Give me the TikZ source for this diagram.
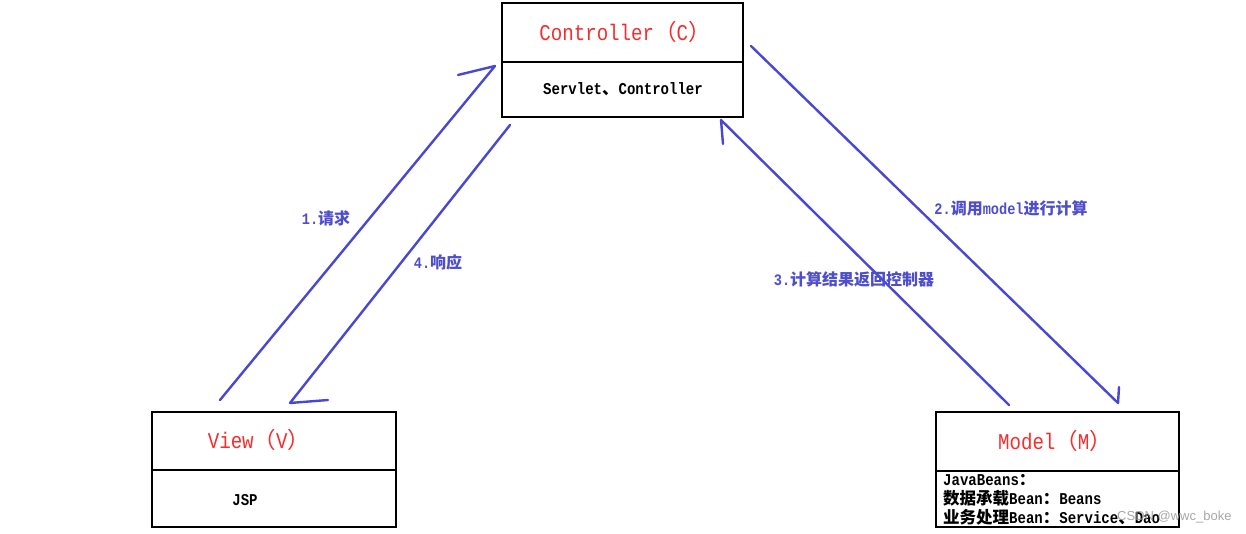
\documentclass[tikz,border=0pt]{standalone}
\usepackage{fontspec}
\setmainfont[FakeStretch=0.85]{Liberation Mono}
\newfontfamily\zhfont{Noto Sans CJK SC}
\newfontfamily\wmfont{Liberation Sans}
\newcommand\zh[1]{{\zhfont #1}}
\definecolor{titlered}{RGB}{245,45,45}
\definecolor{penblue}{RGB}{72,72,212}
\definecolor{labelblue}{RGB}{78,78,205}
\begin{document}
\begin{tikzpicture}[x=1pt,y=-1pt,
  boxpart/.style={draw=black,line width=2.6pt,minimum width=#1,inner sep=0pt},
  titletext/.style={text=titlered,font=\fontsize{22.5}{24}\selectfont,inner sep=0pt},
  bodytext/.style={text=black,font=\fontsize{16.5}{18}\selectfont\bfseries,inner sep=0pt},
  modeltext/.style={text=black,font=\fontsize{16.5}{18}\selectfont\bfseries,inner sep=0pt,anchor=west},
  labeltext/.style={text=labelblue,font=\fontsize{16}{18}\selectfont\bfseries,inner sep=0pt},
  penline/.style={draw=penblue,line width=2.4pt,line cap=round,line join=round}]
\useasboundingbox (0,0) rectangle (1246,534);
\fill[white] (0,0) rectangle (1246,534);
% Controller
\node[boxpart=241pt,minimum height=59pt] (ctop) at (622.5,32.5) {};
\node[boxpart=241pt,minimum height=55pt] (cbot) at (622.5,89.5) {};
\node[titletext] (ctitle) at (625,32) {Controller\zh{（}C\zh{）}};
\node[bodytext] (cbody) at (623,89) {Servlet\zh{、}Controller};
% View
\node[boxpart=244pt,minimum height=58pt] (vtop) at (274,441) {};
\node[boxpart=244pt,minimum height=57pt] (vbot) at (274,498.5) {};
\node[titletext] (vtitle) at (259,440) {View\zh{（}V\zh{）}};
\node[bodytext] (vbody) at (245,500) {JSP};
% Model
\node[boxpart=243pt,minimum height=59pt] (mtop) at (1057.5,441.5) {};
\node[boxpart=243pt,minimum height=56pt] (mbot) at (1057.5,499) {};
\node[titletext] (mtitle) at (1055,441) {Model\zh{（}M\zh{）}};
\node[modeltext] (ml1) at (943,480) {JavaBeans\zh{：}};
\node[modeltext] (ml2) at (943,498) {\zh{数据承载}Bean\zh{：}Beans};
\node[modeltext] (ml3) at (943,517) {\zh{业务处理}Bean\zh{：}Service\zh{、}Dao};
\node[anchor=west,text=black!40,font=\wmfont\fontsize{13}{15}\selectfont,inner sep=0pt,opacity=0.85] (wm) at (1117,517) {CSDN @wwc\_boke};
% arrow coordinates
\coordinate (a1s) at (220,400); \coordinate (a1t) at (495,66); \coordinate (a1b) at (458,75);
\coordinate (a4s) at (510,125); \coordinate (a4t) at (290,403); \coordinate (a4b) at (328,400);
\coordinate (a2s) at (751,46);  \coordinate (a2t) at (1118,403); \coordinate (a2b) at (1119,387);
\coordinate (a3s) at (1009,405); \coordinate (a3t) at (721,120); \coordinate (a3b) at (723,144);
\draw[penline] (a1s) -- (a1t) -- (a1b);
\draw[penline] (a4s) -- (a4t) -- (a4b);
\draw[penline] (a2s) -- (a2t) -- (a2b);
\draw[penline] (a3s) -- (a3t) -- (a3b);
% labels
\node[labeltext] (l1) at (326,218) {1.\zh{请求}};
\node[labeltext] (l4) at (438,262) {4.\zh{响应}};
\node[labeltext] (l2) at (1011,208) {2.\zh{调用}model\zh{进行计算}};
\node[labeltext] (l3) at (854,279) {3.\zh{计算结果返回控制器}};
\end{tikzpicture}
\end{document}
